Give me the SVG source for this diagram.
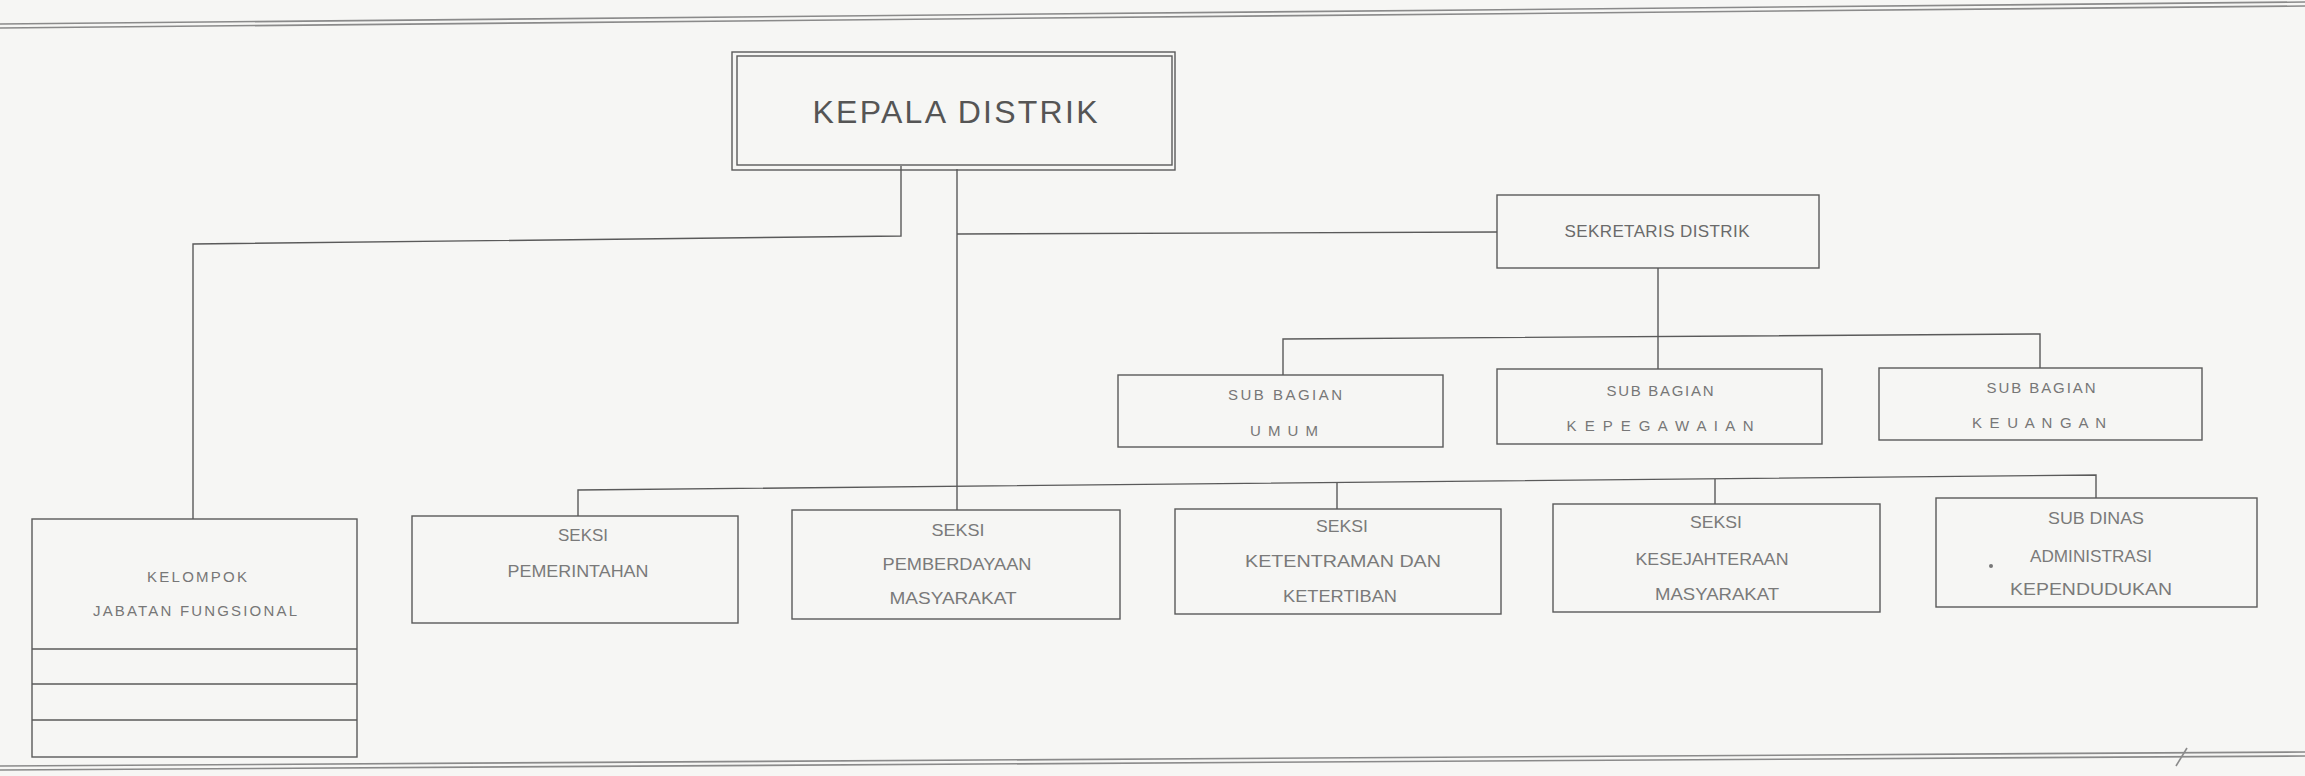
<svg xmlns="http://www.w3.org/2000/svg" width="2305" height="776" viewBox="0 0 2305 776">
<style>
.bx{fill:none;stroke:#5a5a5a;stroke-width:1.4}
.ln{fill:none;stroke:#5a5a5a;stroke-width:1.4}
.pg{fill:none;stroke:#8a8a8a;stroke-width:1.6}
.t{font-family:"Liberation Sans",Arial,sans-serif;font-size:15px;fill:#777;text-anchor:middle}
.tl{font-family:"Liberation Sans",Arial,sans-serif;font-size:17px;fill:#7a7a7a;text-anchor:middle}
.tb{font-family:"Liberation Sans",Arial,sans-serif;font-size:32px;fill:#555;text-anchor:middle}
.ts{font-family:"Liberation Sans",Arial,sans-serif;font-size:17px;fill:#6a6a6a;text-anchor:middle}
</style>
<rect x="0" y="0" width="2305" height="776" fill="#f6f6f4"/>
<g id="page">
<line class="pg" x1="0" y1="24" x2="2305" y2="2"/>
<line class="pg" x1="0" y1="28" x2="2305" y2="6"/>
<line class="pg" x1="0" y1="766" x2="2305" y2="752"/>
<line class="pg" x1="0" y1="770" x2="2305" y2="756"/>
<line class="pg" x1="2176" y1="766" x2="2187" y2="748"/>
<circle cx="1991" cy="566" r="2" fill="#777"/>
</g>
<g id="connectors">
<polyline class="ln" points="901,166 901,236 193,244 193,519"/>
<line class="ln" x1="957" y1="169" x2="957" y2="510"/>
<line class="ln" x1="957" y1="234" x2="1497" y2="232"/>
<line class="ln" x1="1658" y1="268" x2="1658" y2="369"/>
<polyline class="ln" points="1283,375 1283,339 2040,334 2040,368"/>
<polyline class="ln" points="578,516 578,490 2096,475 2096,498"/>
<line class="ln" x1="1337" y1="482" x2="1337" y2="509"/>
<line class="ln" x1="1715" y1="479" x2="1715" y2="504"/>
</g>
<g id="kepala">
<rect class="bx" x="732" y="52" width="443" height="118"/>
<rect class="bx" x="737" y="56" width="435" height="109"/>
<text class="tb" x="955" y="123" textLength="285">KEPALA DISTRIK</text>
</g>
<g id="sekretaris">
<rect class="bx" x="1497" y="195" width="322" height="73"/>
<text class="ts" x="1657" y="237" textLength="185">SEKRETARIS DISTRIK</text>
</g>
<g id="umum">
<rect class="bx" x="1118" y="375" width="325" height="72"/>
<text class="t" x="1285" y="400" textLength="114">SUB BAGIAN</text>
<text class="t" x="1284" y="436" textLength="68">U M U M</text>
</g>
<g id="kepegawaian">
<rect class="bx" x="1497" y="369" width="325" height="75"/>
<text class="t" x="1660" y="396" textLength="107">SUB BAGIAN</text>
<text class="t" x="1660" y="431" textLength="187">K E P E G A W A I A N</text>
</g>
<g id="keuangan">
<rect class="bx" x="1879" y="368" width="323" height="72"/>
<text class="t" x="2041" y="393" textLength="109">SUB BAGIAN</text>
<text class="t" x="2039" y="428" textLength="134">K E U A N G A N</text>
</g>
<g id="kelompok">
<rect class="bx" x="32" y="519" width="325" height="238"/>
<line class="ln" x1="32" y1="649" x2="357" y2="649"/>
<line class="ln" x1="32" y1="684" x2="357" y2="684"/>
<line class="ln" x1="32" y1="720" x2="357" y2="720"/>
<text class="t" x="197" y="582" textLength="100">KELOMPOK</text>
<text class="t" x="195" y="616" textLength="204">JABATAN FUNGSIONAL</text>
</g>
<g id="pemerintahan">
<rect class="bx" x="412" y="516" width="326" height="107"/>
<text class="tl" x="583" y="541" textLength="50" lengthAdjust="spacingAndGlyphs">SEKSI</text>
<text class="tl" x="578" y="577" textLength="141" lengthAdjust="spacingAndGlyphs">PEMERINTAHAN</text>
</g>
<g id="pemberdayaan">
<rect class="bx" x="792" y="510" width="328" height="109"/>
<text class="tl" x="958" y="536" textLength="53" lengthAdjust="spacingAndGlyphs">SEKSI</text>
<text class="tl" x="957" y="570" textLength="149" lengthAdjust="spacingAndGlyphs">PEMBERDAYAAN</text>
<text class="tl" x="953" y="604" textLength="127" lengthAdjust="spacingAndGlyphs">MASYARAKAT</text>
</g>
<g id="ketentraman">
<rect class="bx" x="1175" y="509" width="326" height="105"/>
<text class="tl" x="1342" y="532" textLength="52" lengthAdjust="spacingAndGlyphs">SEKSI</text>
<text class="tl" x="1343" y="567" textLength="196" lengthAdjust="spacingAndGlyphs">KETENTRAMAN DAN</text>
<text class="tl" x="1340" y="602" textLength="114" lengthAdjust="spacingAndGlyphs">KETERTIBAN</text>
</g>
<g id="kesejahteraan">
<rect class="bx" x="1553" y="504" width="327" height="108"/>
<text class="tl" x="1716" y="528" textLength="52" lengthAdjust="spacingAndGlyphs">SEKSI</text>
<text class="tl" x="1712" y="565" textLength="153" lengthAdjust="spacingAndGlyphs">KESEJAHTERAAN</text>
<text class="tl" x="1717" y="600" textLength="124" lengthAdjust="spacingAndGlyphs">MASYARAKAT</text>
</g>
<g id="subdinas">
<rect class="bx" x="1936" y="498" width="321" height="109"/>
<text class="tl" x="2096" y="524" textLength="96" lengthAdjust="spacingAndGlyphs">SUB DINAS</text>
<text class="tl" x="2091" y="562" textLength="122" lengthAdjust="spacingAndGlyphs">ADMINISTRASI</text>
<text class="tl" x="2091" y="595" textLength="162" lengthAdjust="spacingAndGlyphs">KEPENDUDUKAN</text>
</g>
</svg>
